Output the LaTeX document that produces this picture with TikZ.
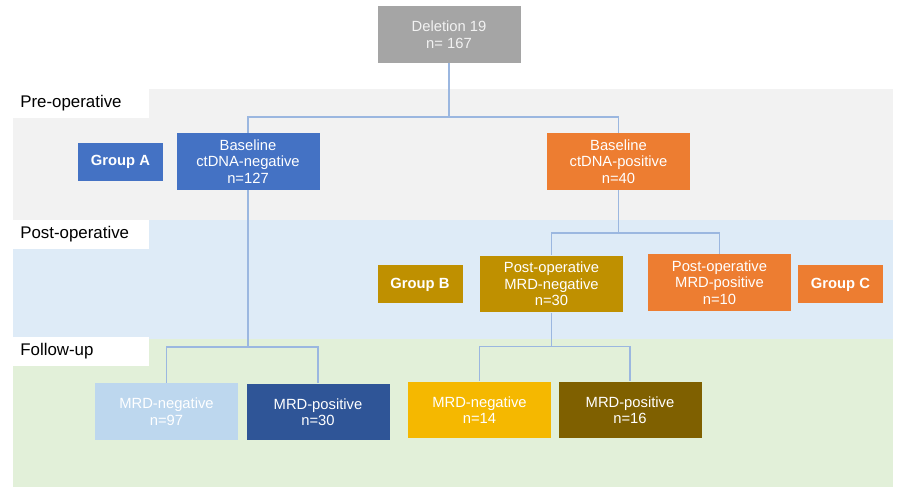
\documentclass[tikz,border=0pt]{standalone}
\usepackage{fontspec}
\setmainfont{Liberation Sans}
\usepackage{xcolor}
\usepackage{tikz}
\usetikzlibrary{positioning,calc}

\definecolor{preband}{HTML}{F2F2F2}
\definecolor{postband}{HTML}{DEEBF7}
\definecolor{fupband}{HTML}{E2F0D9}
\definecolor{rootgray}{HTML}{A5A5A5}
\definecolor{negblue}{HTML}{4472C4}
\definecolor{posorange}{HTML}{ED7D31}
\definecolor{darkgold}{HTML}{BF9000}
\definecolor{lightblue}{HTML}{BDD7EE}
\definecolor{navy}{HTML}{2F5597}
\definecolor{amber}{HTML}{F5B800}
\definecolor{olivebrown}{HTML}{7F6000}
\definecolor{linkblue}{HTML}{9BB7E0}

\begin{document}
\begin{tikzpicture}[
  box/.style={rectangle, minimum width=2.86cm, minimum height=1.13cm, inner sep=1pt,
              text=white, align=center, font=\fontsize{8.4}{9.4}\selectfont},
  grp/.style={rectangle, minimum width=1.7cm, minimum height=0.76cm, inner sep=1pt,
              text=white, font=\fontsize{8.4}{9.4}\selectfont\bfseries},
  stage/.style={rectangle, fill=white, anchor=north west, minimum height=0.57cm,
                text width=2.44cm, inner xsep=0.14cm, align=left,
                font=\fontsize{9.6}{10}\selectfont},
  link/.style={draw=linkblue, line width=0.7pt}
]
  \useasboundingbox (0,0) rectangle (18,-9.96);

  % phase bands
  \fill[preband]  (0.26,-1.78) rectangle (17.86,-4.40);
  \fill[postband] (0.26,-4.40) rectangle (17.86,-6.78);
  \fill[fupband]  (0.26,-6.78) rectangle (17.86,-9.74);
  \node[stage] (pre)  at (0.26,-1.78) {Pre-operative};
  \node[stage] (post) at (0.26,-4.40) {Post-operative};
  \node[stage] (fup)  at (0.26,-6.74) {Follow-up};

  \node[box, fill=rootgray, text=preband] (root) at (8.98,-0.69) {Deletion 19\\n= 167};

  \node[box, fill=negblue]   (bneg) at (4.96,-3.23)  {Baseline\\ctDNA-negative\\n=127};
  \node[box, fill=posorange] (bpos) at (12.37,-3.23) {Baseline\\ctDNA-positive\\n=40};
  \node[grp, fill=negblue]   (ga)   at (2.41,-3.24)  {Group A};

  \node[box, fill=darkgold]  (pneg) at (11.03,-5.68) {Post-operative\\MRD-negative\\n=30};
  \node[box, fill=posorange] (ppos) at (14.39,-5.65) {Post-operative\\MRD-positive\\n=10};
  \node[grp, fill=darkgold]  (gb)   at (8.40,-5.69)  {Group B};
  \node[grp, fill=posorange] (gc)   at (16.81,-5.69) {Group C};

  \node[box, fill=lightblue]  (fneg1) at (3.33,-8.23)  {MRD-negative\\n=97};
  \node[box, fill=navy]       (fpos1) at (6.36,-8.24)  {MRD-positive\\n=30};
  \node[box, fill=amber]      (fneg2) at (9.59,-8.20)  {MRD-negative\\n=14};
  \node[box, fill=olivebrown] (fpos2) at (12.60,-8.20) {MRD-positive\\n=16};

  % tree links
  \draw[link] (root.south) -- ++(0,-1.08) coordinate (j0) -| (bneg.north);
  \draw[link] (j0) -| (bpos.north);
  \draw[link] (bpos.south) -- ++(0,-0.86) coordinate (j1) -| (pneg.north);
  \draw[link] (j1) -| (ppos.north);
  \draw[link] (bneg.south) -- ++(0,-3.14) coordinate (j2) -| (fneg1.north);
  \draw[link] (j2) -| (fpos1.north);
  \draw[link] (pneg.south) -- ++(0,-0.68) coordinate (j3) -| (fneg2.north);
  \draw[link] (j3) -| (fpos2.north);
\end{tikzpicture}
\end{document}
